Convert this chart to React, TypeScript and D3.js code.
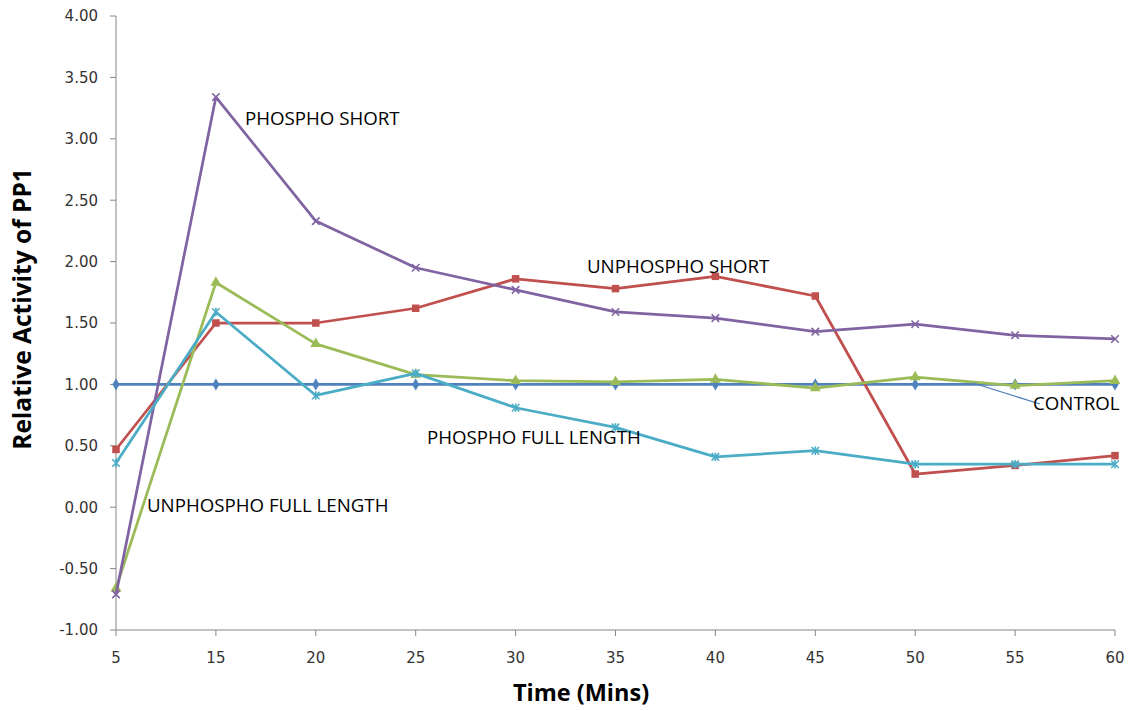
import React from "react";
import * as d3 from "d3";

// Time points (minutes) – plotted as evenly spaced categories
const times = ["5", "15", "20", "25", "30", "35", "40", "45", "50", "55", "60"];

// Relative activity of PP1 for each condition
const control = [1, 1, 1, 1, 1, 1, 1, 1, 1, 1, 1];
const unphosphoShort = [0.47, 1.5, 1.5, 1.62, 1.86, 1.78, 1.88, 1.72, 0.27, 0.34, 0.42];
const unphosphoFull = [-0.66, 1.83, 1.33, 1.08, 1.03, 1.02, 1.04, 0.97, 1.06, 0.99, 1.03];
const phosphoShort = [-0.71, 3.34, 2.33, 1.95, 1.77, 1.59, 1.54, 1.43, 1.49, 1.4, 1.37];
const phosphoFull = [0.36, 1.59, 0.91, 1.09, 0.81, 0.65, 0.41, 0.46, 0.35, 0.35, 0.35];

const yTicks = [-1, -0.5, 0, 0.5, 1, 1.5, 2, 2.5, 3, 3.5, 4];

type Marker = "diamond" | "square" | "triangle" | "x" | "star";

const series: { name: string; values: number[]; color: string; marker: Marker }[] = [
  { name: "CONTROL", values: control, color: "#4F81BD", marker: "diamond" },
  { name: "UNPHOSPHO SHORT", values: unphosphoShort, color: "#C0504D", marker: "square" },
  { name: "UNPHOSPHO FULL LENGTH", values: unphosphoFull, color: "#9BBB59", marker: "triangle" },
  { name: "PHOSPHO SHORT", values: phosphoShort, color: "#8064A2", marker: "x" },
  { name: "PHOSPHO FULL LENGTH", values: phosphoFull, color: "#4BACC6", marker: "star" },
];

// Series name labels placed on the plot area
const annotations = [
  { text: "PHOSPHO SHORT", x: 245, y: 125 },
  { text: "UNPHOSPHO SHORT", x: 587, y: 273 },
  { text: "PHOSPHO FULL LENGTH", x: 427, y: 444 },
  { text: "UNPHOSPHO FULL LENGTH", x: 147, y: 512 },
  { text: "CONTROL", x: 1033, y: 410 },
];

const W = 1136;
const H = 711;
const left = 116;
const right = 1115;
const top = 16;
const bottom = 630;

const x = d3.scalePoint<string>().domain(times).range([left, right]).padding(0);
const y = d3.scaleLinear().domain([-1, 4]).range([bottom, top]);

const line = d3
  .line<number>()
  .x((_, i) => x(times[i]) as number)
  .y((v) => y(v));

function MarkerShape({ type, cx, cy, color }: { type: Marker; cx: number; cy: number; color: string }) {
  const r = 3.75;
  switch (type) {
    case "diamond":
      return <path d={d3.symbol(d3.symbolDiamond, 44)() as string} transform={`translate(${cx},${cy})`} fill={color} />;
    case "square":
      return <rect x={cx - r} y={cy - r} width={r * 2} height={r * 2} fill={color} />;
    case "triangle":
      return <path d={d3.symbol(d3.symbolTriangle, 52)() as string} transform={`translate(${cx},${cy})`} fill={color} />;
    case "x":
      return (
        <g stroke={color} strokeWidth={1.6}>
          <line x1={cx - r} y1={cy - r} x2={cx + r} y2={cy + r} />
          <line x1={cx - r} y1={cy + r} x2={cx + r} y2={cy - r} />
        </g>
      );
    case "star":
      return (
        <g stroke={color} strokeWidth={1.6}>
          <line x1={cx - r} y1={cy - r} x2={cx + r} y2={cy + r} />
          <line x1={cx - r} y1={cy + r} x2={cx + r} y2={cy - r} />
          <line x1={cx} y1={cy - r - 0.5} x2={cx} y2={cy + r + 0.5} />
        </g>
      );
  }
}

export default function App() {
  const axisColor = "#868686";
  const tickFont = "'DejaVu Sans', Verdana, sans-serif";
  const labelFont = "'Open Sans', 'Noto Sans', sans-serif";
  return (
    <svg
      width={W}
      height={H}
      style={{ position: "absolute", left: 0, top: 0, background: "#fff" }}
    >
      <rect width={W} height={H} fill="#fff" />

      {/* Y axis */}
      <line x1={left} y1={top} x2={left} y2={bottom} stroke={axisColor} />
      {yTicks.map((t) => (
        <g key={t}>
          <line x1={left - 6} x2={left} y1={y(t)} y2={y(t)} stroke={axisColor} />
          <text
            x={98}
            y={y(t)}
            dy="0.36em"
            textAnchor="end"
            fontFamily={tickFont}
            fontSize={15}
            fill="#333"
          >
            {t.toFixed(2)}
          </text>
        </g>
      ))}

      {/* X axis */}
      <line x1={left} y1={bottom} x2={right} y2={bottom} stroke={axisColor} />
      {times.map((t) => (
        <g key={t}>
          <line x1={x(t)} x2={x(t)} y1={bottom} y2={bottom + 6} stroke={axisColor} />
          <text
            x={x(t)}
            y={663}
            textAnchor="middle"
            fontFamily={tickFont}
            fontSize={15}
            fill="#333"
          >
            {t}
          </text>
        </g>
      ))}

      {/* Axis titles */}
      <text
        x={581}
        y={701}
        textAnchor="middle"
        fontFamily={labelFont}
        fontWeight="bold"
        fontSize={23.5}
        fill="#000"
      >
        Time (Mins)
      </text>
      <text
        transform="translate(31,309) rotate(-90)"
        textAnchor="middle"
        fontFamily={labelFont}
        fontWeight="bold"
        fontSize={24.5}
        fill="#000"
      >
        Relative Activity of PP1
      </text>

      {/* Series lines and markers */}
      {series.map((s) => (
        <g key={s.name}>
          <path d={line(s.values) as string} fill="none" stroke={s.color} strokeWidth={2.75} strokeLinejoin="round" />
          {s.values.map((v, i) => (
            <MarkerShape key={i} type={s.marker} cx={x(times[i]) as number} cy={y(v)} color={s.color} />
          ))}
        </g>
      ))}

      {/* Leader line for the CONTROL label */}
      <line x1={973} y1={383} x2={1040} y2={404} stroke="#4F81BD" strokeWidth={1.25} />

      {/* Series name labels */}
      {annotations.map((a) => (
        <text key={a.text} x={a.x} y={a.y} fontFamily={labelFont} fontSize={18.7} fill="#000">
          {a.text}
        </text>
      ))}
    </svg>
  );
}
